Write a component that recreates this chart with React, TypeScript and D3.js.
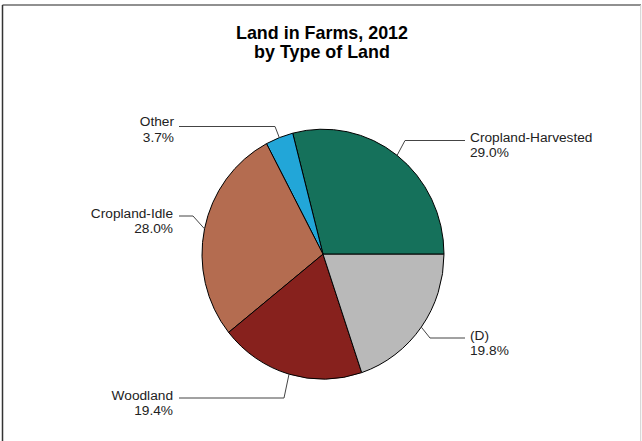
import React, { useEffect, useRef } from "react";
import * as d3 from "d3";

// Land in Farms, 2012 by type of land
const categories = ["Cropland-Harvested", "Other", "Cropland-Idle", "Woodland", "(D)"];
const shares = [29.0, 3.7, 28.0, 19.4, 19.8];
const sliceColors = ["#15715b", "#22a6d8", "#b46c50", "#87211d", "#b9b9b9"];
const titleLines = ["Land in Farms, 2012", "by Type of Land"];

// where each label sits (elbow of leader, end of horizontal, text anchor)
const labelLayout = [
  { elbow: [405, 140.5], end: 465, tx: 470, ty: 141.8, anchor: "start" },
  { elbow: [275, 126.5], end: 179, tx: 174, ty: 126, anchor: "end" },
  { elbow: [193, 216], end: 179, tx: 173, ty: 217.8, anchor: "end" },
  { elbow: [284, 398], end: 179, tx: 173, ty: 399.5, anchor: "end" },
  { elbow: [430, 338], end: 465, tx: 470, ty: 339.6, anchor: "start" },
];

const App = () => {
  const ref = useRef<SVGSVGElement>(null);

  useEffect(() => {
    draw();
  });

  const draw = () => {
    const width = 642;
    const height = 441;
    const cx = 323;
    const cy = 254.2;
    const rx = 121;
    const ry = 125;

    const svg = d3.select(ref.current);
    svg.selectAll("*").remove();

    svg.append("rect").attr("width", width).attr("height", height).attr("fill", "#fff");

    // frame: dark top/left, light right
    svg.append("line").attr("x1", 2.5).attr("x2", 641).attr("y1", 5).attr("y2", 5)
      .attr("stroke", "#6b6b6b").attr("stroke-width", 1.5);
    svg.append("line").attr("x1", 2.5).attr("x2", 2.5).attr("y1", 5).attr("y2", 441)
      .attr("stroke", "#333").attr("stroke-width", 1.5);
    svg.append("line").attr("x1", 640.7).attr("x2", 640.7).attr("y1", 5).attr("y2", 441)
      .attr("stroke", "#cfcfcf").attr("stroke-width", 1);

    const title = svg.append("text")
      .attr("x", cx - 1)
      .attr("text-anchor", "middle")
      .attr("font-family", "'Liberation Sans', Arial, sans-serif")
      .attr("font-weight", "bold")
      .attr("font-size", 17.9)
      .attr("fill", "#000");
    titleLines.forEach((t, i) => {
      title.append("tspan").attr("x", cx - 1).attr("y", 38.5 + i * 19).text(t);
    });

    const data = shares.map((v, i) => ({ name: categories[i], value: v, color: sliceColors[i] }));

    // start at 3 o'clock, go counter-clockwise
    const pie = d3.pie<{ name: string; value: number; color: string }>()
      .sort(null)
      .value((d) => d.value)
      .startAngle(Math.PI / 2)
      .endAngle(Math.PI / 2 - 2 * Math.PI);

    const arcs = pie(data);
    const arc = d3.arc<d3.PieArcDatum<{ name: string; value: number; color: string }>>()
      .innerRadius(0)
      .outerRadius(rx);

    const g = svg.append("g")
      .attr("transform", `translate(${cx}, ${cy}) scale(1, ${ry / rx})`);

    g.selectAll("path")
      .data(arcs)
      .enter()
      .append("path")
      .attr("d", (d) => arc(d) as string)
      .attr("fill", (d) => d.data.color)
      .attr("stroke", "#000")
      .attr("stroke-width", 1)
      .attr("vector-effect", "non-scaling-stroke");

    const font = "'Liberation Sans', Arial, sans-serif";

    arcs.forEach((d, i) => {
      const lay = labelLayout[i];
      const mid = (d.startAngle + d.endAngle) / 2;
      const px = cx + rx * Math.sin(mid);
      const py = cy - ry * Math.cos(mid);
      const pts: [number, number][] = [
        [px, py],
        [lay.elbow[0], lay.elbow[1]],
        [lay.end, lay.elbow[1]],
      ];
      svg.append("path")
        .attr("d", d3.line()(pts) as string)
        .attr("fill", "none")
        .attr("stroke", "#444")
        .attr("stroke-width", 1);

      const t = svg.append("text")
        .attr("font-family", font)
        .attr("font-size", 13.7)
        .attr("fill", "#222")
        .attr("text-anchor", lay.anchor);
      t.append("tspan").attr("x", lay.tx).attr("y", lay.ty).text(d.data.name);
      t.append("tspan").attr("x", lay.tx).attr("y", lay.ty + 15.5).text(`${d.data.value.toFixed(1)}%`);
    });
  };

  return (
    <div style={{ position: "absolute", left: 0, top: 0 }}>
      <svg ref={ref} width={642} height={441} style={{ display: "block" }} />
    </div>
  );
};

export default App;
